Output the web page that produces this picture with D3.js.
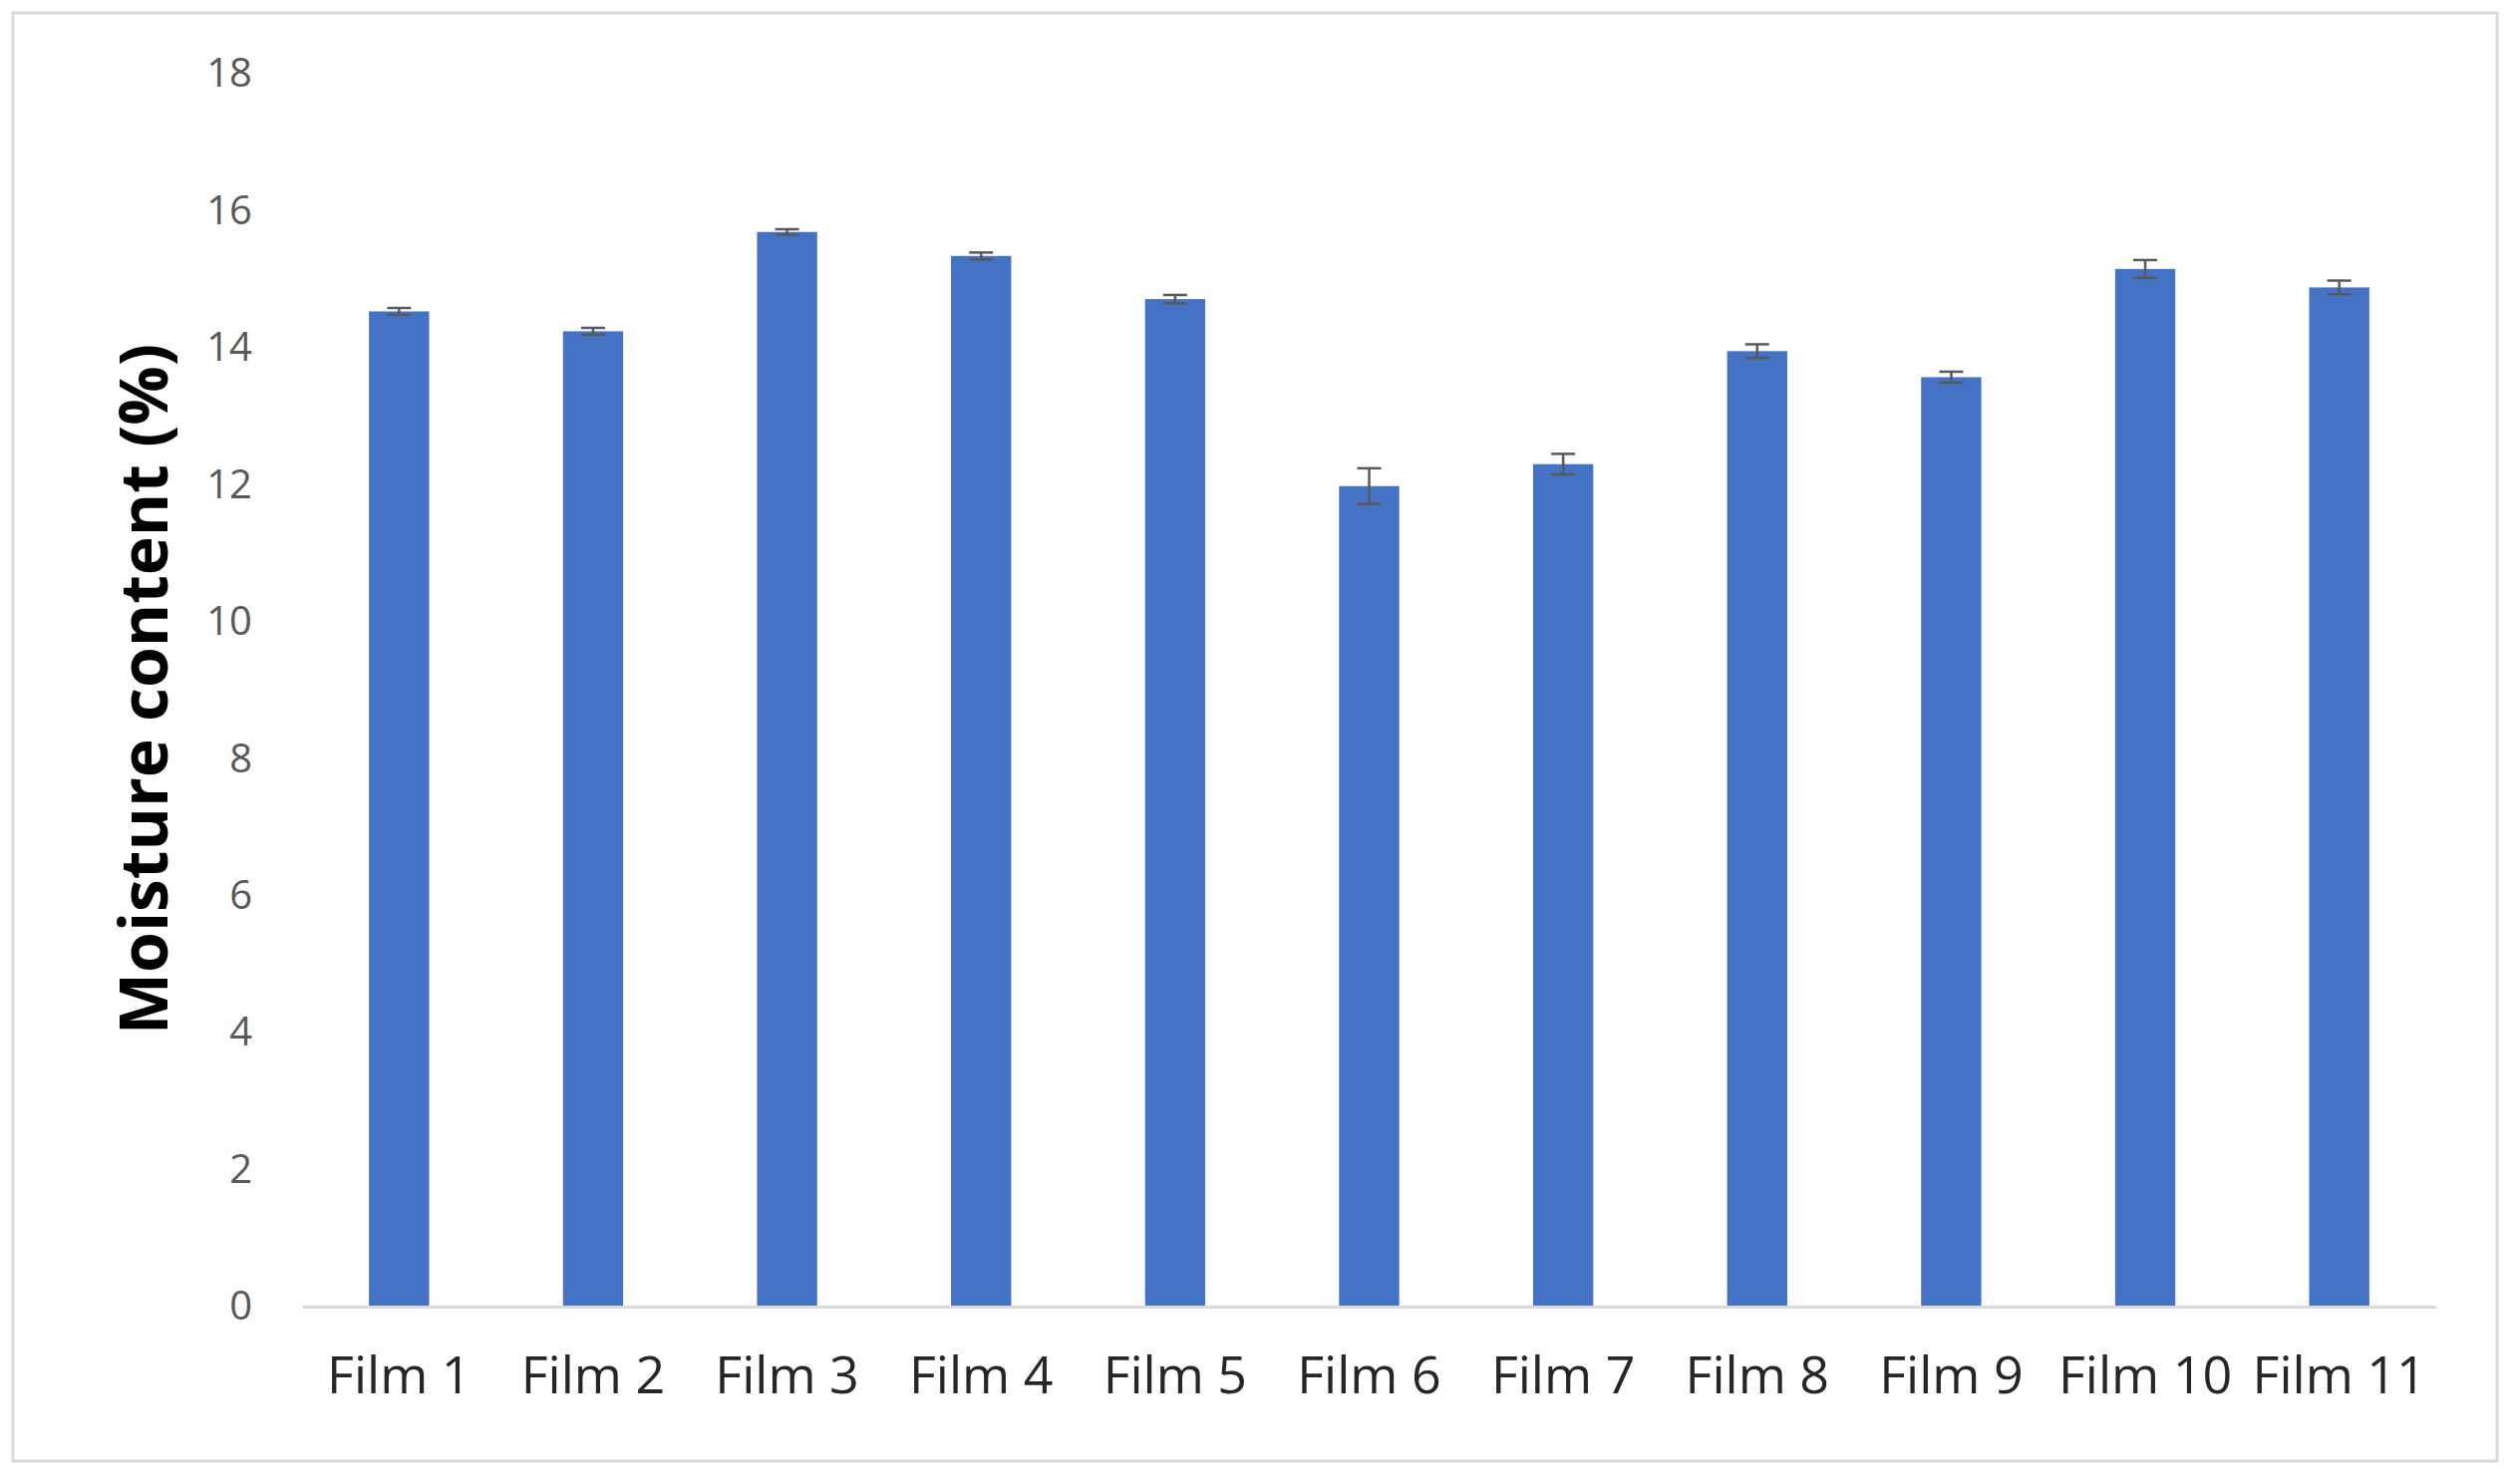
<!DOCTYPE html>
<html>
<head>
<meta charset="utf-8">
<script src="https://cdn.jsdelivr.net/npm/d3@7"></script>
<style>
  body { margin: 0; background: #fff; }
  text { font-family: "Open Sans", "Liberation Sans", sans-serif; }
</style>
</head>
<body>
<div id="chart"></div>
<script>
// values
var films = ["Film 1", "Film 2", "Film 3", "Film 4", "Film 5", "Film 6", "Film 7", "Film 8", "Film 9", "Film 10", "Film 11"];
var moisture = [14.53, 14.24, 15.69, 15.34, 14.71, 11.98, 12.3, 13.95, 13.57, 15.15, 14.88];
var errors = [0.05, 0.05, 0.04, 0.05, 0.06, 0.26, 0.15, 0.1, 0.08, 0.13, 0.1];
var yTicks = [0, 2, 4, 6, 8, 10, 12, 14, 16, 18];

var W = 2527, H = 1489;
var margin = {top: 74, right: 83, bottom: 178, left: 303},
    width = W - margin.left - margin.right,
    height = H - margin.top - margin.bottom;

var root = d3.select("#chart").append("svg")
    .attr("width", W)
    .attr("height", H);

// outer frame
root.append("rect")
    .attr("x", 13).attr("y", 13)
    .attr("width", 2492).attr("height", 1453)
    .attr("fill", "none")
    .attr("stroke", "#d9d9d9")
    .attr("stroke-width", 3);

var svg = root.append("g")
    .attr("transform", "translate(" + margin.left + "," + margin.top + ")");

var x = d3.scaleBand()
    .domain(films)
    .range([0, width])
    .paddingInner(0.69)
    .paddingOuter(0.345);

var y = d3.scaleLinear()
    .domain([0, 18])
    .range([height, 0]);

// bars
svg.selectAll(".bar")
    .data(films)
    .enter()
    .append("rect")
    .attr("x", function (d) { return x(d); })
    .attr("y", function (d, i) { return y(moisture[i]); })
    .attr("width", x.bandwidth())
    .attr("height", function (d, i) { return height - y(moisture[i]); })
    .attr("fill", "#4472c4");

// error bars
var eb = svg.selectAll(".err")
    .data(films)
    .enter()
    .append("g")
    .attr("stroke", "#595959")
    .attr("stroke-width", 2.5);
eb.append("line")
    .attr("x1", function (d) { return x(d) + x.bandwidth() / 2; })
    .attr("x2", function (d) { return x(d) + x.bandwidth() / 2; })
    .attr("y1", function (d, i) { return y(moisture[i] - errors[i]); })
    .attr("y2", function (d, i) { return y(moisture[i] + errors[i]); });
[-1, 1].forEach(function (s) {
    eb.append("line")
        .attr("x1", function (d) { return x(d) + x.bandwidth() / 2 - 12; })
        .attr("x2", function (d) { return x(d) + x.bandwidth() / 2 + 12; })
        .attr("y1", function (d, i) { return y(moisture[i] + s * errors[i]); })
        .attr("y2", function (d, i) { return y(moisture[i] + s * errors[i]); });
});

// x axis
var xa = svg.append("g")
    .attr("transform", "translate(0," + height + ")")
    .call(d3.axisBottom(x).tickSize(0).tickPadding(50));
xa.select(".domain").attr("stroke", "#d9d9d9").attr("stroke-width", 3);
xa.selectAll("text").attr("font-size", 52).attr("fill", "#262626");

// y axis
var ya = svg.append("g")
    .call(d3.axisLeft(y).tickValues(yTicks).tickSize(0).tickPadding(50));
ya.select(".domain").remove();
ya.selectAll("text").attr("font-size", 40).attr("fill", "#595959");

// axis title
root.append("text")
    .attr("transform", "translate(142," + (margin.top + height / 2 - 1) + ") rotate(-90)")
    .attr("text-anchor", "middle")
    .attr("dominant-baseline", "central")
    .attr("font-size", 66)
    .attr("font-weight", "bold")
    .attr("fill", "#000")
    .text("Moisture content (%)");
</script>
</body>
</html>
